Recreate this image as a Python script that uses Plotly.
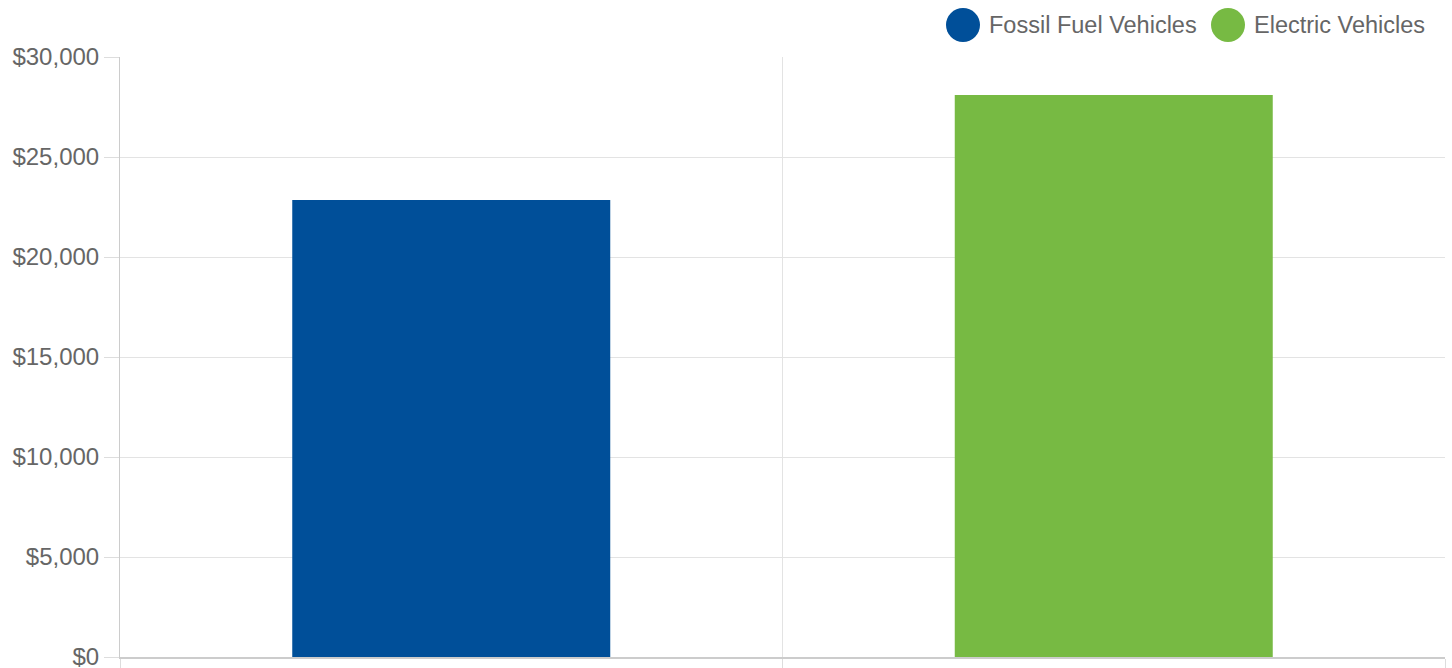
import plotly.graph_objects as go

categories = ["Fossil Fuel Vehicles", "Electric Vehicles"]
costs = [22850, 28100]
colors = ["#004F99", "#77BA43"]
y_max = 30000
y_step = 5000

W, H = 1452, 668
L, R, T, B = 120, 7, 57, 11
pw, ph = W - L - R, H - T - B

fig = go.Figure()
for cat, val, col in zip(categories, costs, colors):
    fig.add_trace(go.Bar(x=[cat], y=[val], name=cat, marker=dict(color=col, line=dict(width=0)),
                         width=0.48, showlegend=False))

# custom legend with large circles
legend_pos = [(963, 987), (1228, 1252)]
for (cx, tx), cat, col in zip(legend_pos, categories, colors):
    fig.add_shape(type="circle", xref="paper", yref="paper", xsizemode="pixel", ysizemode="pixel",
                  xanchor=(cx - L) / pw, yanchor=(H - B - 25) / ph,
                  x0=-17, x1=17, y0=-17, y1=17, fillcolor=col, line=dict(width=0))
    fig.add_annotation(text=cat, xref="paper", yref="paper", x=(tx - L) / pw, y=(H - B - 25) / ph,
                       xanchor="left", yanchor="middle", showarrow=False,
                       font=dict(size=23.5, color="#666666"))

fig.update_layout(
    width=W, height=H, margin=dict(l=L, r=R, t=T, b=B, pad=0, autoexpand=False),
    paper_bgcolor="white", plot_bgcolor="white", barmode="overlay",
    font=dict(family="Liberation Sans, Arial, Helvetica, sans-serif", color="#666666", size=24),
)
fig.update_xaxes(type="category", tickson="boundaries", showticklabels=False, ticks="outside",
                 ticklen=11, tickcolor="#dddddd", showgrid=True, gridcolor="#e3e3e3", gridwidth=1,
                 showline=True, linecolor="#cccccc", linewidth=2, zeroline=False, automargin=False)
fig.update_yaxes(range=[0, y_max], tick0=0, dtick=y_step, tickprefix="$", showtickprefix="all",
                 separatethousands=True, tickformat=",d", ticklabeloverflow="allow",
                 ticks="outside", ticklen=15, tickcolor="#dddddd", showgrid=True, gridcolor="#e3e3e3",
                 gridwidth=1, showline=True, linecolor="#cccccc", linewidth=1, zeroline=False,
                 automargin=False, tickfont=dict(size=24, color="#666666"))

fig.write_html("out.html")
